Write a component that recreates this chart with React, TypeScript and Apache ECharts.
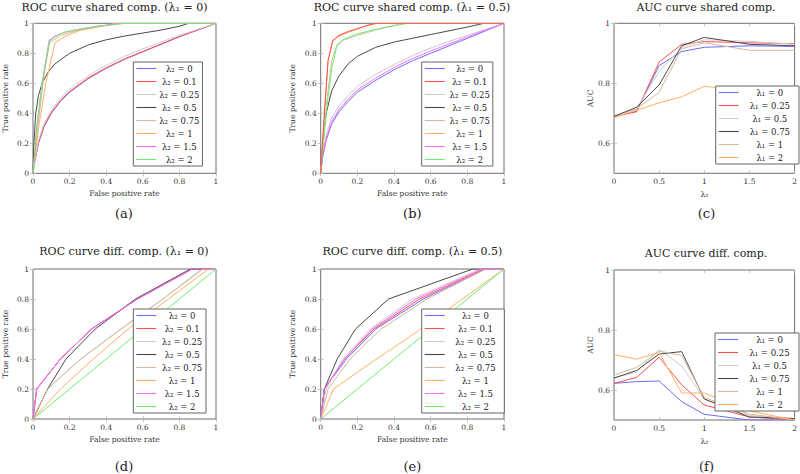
import React, { useEffect, useRef } from 'react';
import * as echarts from 'echarts';

// ---------- names / categories ----------
const lambda2Names = ['λ₂ = 0', 'λ₂ = 0.1', 'λ₂ = 0.25', 'λ₂ = 0.5', 'λ₂ = 0.75', 'λ₂ = 1', 'λ₂ = 1.5', 'λ₂ = 2'];
const lambda1Names = ['λ₁ = 0', 'λ₁ = 0.25', 'λ₁ = 0.5', 'λ₁ = 0.75', 'λ₁ = 1', 'λ₁ = 2'];
const lambda2Values = [0, 0.25, 0.5, 0.75, 1, 1.5, 2];
const titles = [
  'ROC curve shared comp. (λ₁ = 0)',
  'ROC curve shared comp. (λ₁ = 0.5)',
  'AUC curve shared comp.',
  'ROC curve diff. comp. (λ₁ = 0)',
  'ROC curve diff. comp. (λ₁ = 0.5)',
  'AUC curve diff. comp.',
];
const subLabels = ['(a)', '(b)', '(c)', '(d)', '(e)', '(f)'];

// ---------- (a) ROC shared comp., λ1 = 0 : [FPR, TPR] ----------
const rocA_l2_0 = [[0, 0], [0.01, 0.08], [0.03, 0.2], [0.06, 0.31], [0.1, 0.4], [0.15, 0.48], [0.2, 0.54], [0.3, 0.63], [0.4, 0.7], [0.5, 0.76], [0.6, 0.81], [0.7, 0.86], [0.8, 0.91], [0.9, 0.955], [1, 1]];
const rocA_l2_01 = [[0, 0], [0.01, 0.085], [0.03, 0.205], [0.06, 0.315], [0.1, 0.405], [0.15, 0.485], [0.2, 0.545], [0.3, 0.635], [0.4, 0.703], [0.5, 0.762], [0.6, 0.812], [0.7, 0.862], [0.8, 0.912], [0.9, 0.956], [1, 1]];
const rocA_l2_025 = [[0, 0], [0.01, 0.09], [0.03, 0.22], [0.06, 0.33], [0.1, 0.42], [0.15, 0.5], [0.2, 0.56], [0.3, 0.65], [0.4, 0.72], [0.5, 0.78], [0.6, 0.83], [0.7, 0.875], [0.8, 0.92], [0.9, 0.96], [1, 1]];
const rocA_l2_05 = [[0, 0], [0.005, 0.2], [0.015, 0.4], [0.03, 0.52], [0.05, 0.6], [0.08, 0.67], [0.12, 0.73], [0.2, 0.8], [0.3, 0.855], [0.4, 0.89], [0.5, 0.915], [0.6, 0.935], [0.7, 0.955], [0.8, 0.98], [0.85, 1], [1, 1]];
const rocA_l2_075 = [[0, 0], [0.03, 0.35], [0.06, 0.65], [0.09, 0.87], [0.15, 0.92], [0.25, 0.955], [0.4, 0.985], [0.5, 1], [1, 1]];
const rocA_l2_1 = [[0, 0], [0.03, 0.3], [0.07, 0.6], [0.12, 0.87], [0.17, 0.91], [0.25, 0.95], [0.35, 0.975], [0.45, 1], [1, 1]];
const rocA_l2_15 = [[0, 0], [0.02, 0.3], [0.05, 0.6], [0.088, 0.885], [0.12, 0.915], [0.17, 0.94], [0.25, 0.96], [0.35, 0.98], [0.48, 1], [1, 1]];
const rocA_l2_2 = [[0, 0], [0.02, 0.3], [0.05, 0.6], [0.09, 0.88], [0.12, 0.91], [0.17, 0.94], [0.25, 0.96], [0.35, 0.98], [0.5, 1], [1, 1]];

// ---------- (b) ROC shared comp., λ1 = 0.5 ----------
const rocB_l2_0 = [[0, 0], [0.01, 0.1], [0.03, 0.22], [0.06, 0.33], [0.1, 0.41], [0.15, 0.48], [0.2, 0.54], [0.3, 0.62], [0.4, 0.69], [0.5, 0.75], [0.6, 0.8], [0.7, 0.85], [0.8, 0.9], [0.9, 0.95], [1, 1]];
const rocB_l2_01 = [[0, 0], [0.02, 0.4], [0.04, 0.75], [0.065, 0.885], [0.1, 0.92], [0.15, 0.945], [0.2, 0.965], [0.25, 0.985], [0.3, 1], [1, 1]];
const rocB_l2_025 = [[0, 0], [0.01, 0.12], [0.03, 0.26], [0.06, 0.37], [0.1, 0.45], [0.15, 0.52], [0.2, 0.58], [0.3, 0.66], [0.4, 0.725], [0.5, 0.785], [0.6, 0.835], [0.7, 0.88], [0.8, 0.92], [0.9, 0.96], [1, 1]];
const rocB_l2_05 = [[0, 0], [0.01, 0.2], [0.03, 0.4], [0.06, 0.55], [0.1, 0.65], [0.15, 0.73], [0.2, 0.78], [0.3, 0.84], [0.4, 0.875], [0.5, 0.9], [0.6, 0.925], [0.7, 0.95], [0.8, 0.975], [0.89, 1], [1, 1]];
const rocB_l2_075 = [[0, 0], [0.03, 0.45], [0.06, 0.75], [0.09, 0.86], [0.12, 0.885], [0.2, 0.92], [0.3, 0.955], [0.4, 0.985], [0.45, 1], [1, 1]];
const rocB_l2_1 = [[0, 0], [0.02, 0.4], [0.04, 0.75], [0.065, 0.88], [0.1, 0.915], [0.15, 0.94], [0.2, 0.96], [0.25, 0.982], [0.31, 1], [1, 1]];
const rocB_l2_15 = [[0, 0], [0.01, 0.11], [0.03, 0.235], [0.06, 0.345], [0.1, 0.425], [0.15, 0.495], [0.2, 0.555], [0.3, 0.635], [0.4, 0.705], [0.5, 0.765], [0.6, 0.815], [0.7, 0.862], [0.8, 0.91], [0.9, 0.955], [1, 1]];
const rocB_l2_2 = [[0, 0], [0.03, 0.4], [0.06, 0.7], [0.087, 0.845], [0.12, 0.89], [0.2, 0.93], [0.3, 0.96], [0.4, 0.985], [0.48, 1], [1, 1]];

// ---------- (d) ROC diff. comp., λ1 = 0 ----------
const rocD_l2_0 = [[0, 0], [0.02, 0.2], [0.15, 0.4], [0.32, 0.6], [0.57, 0.8], [0.87, 1], [1, 1]];
const rocD_l2_01 = [[0, 0], [0.02, 0.2], [0.15, 0.4], [0.32, 0.6], [0.57, 0.8], [0.87, 1], [1, 1]];
const rocD_l2_025 = [[0, 0], [0.08, 0.2], [0.24, 0.38], [0.46, 0.58], [0.7, 0.79], [0.92, 1], [1, 1]];
const rocD_l2_05 = [[0, 0], [0.08, 0.2], [0.18, 0.4], [0.34, 0.6], [0.56, 0.8], [0.86, 1], [1, 1]];
const rocD_l2_075 = [[0, 0], [0.08, 0.2], [0.26, 0.4], [0.48, 0.6], [0.71, 0.8], [0.93, 1], [1, 1]];
const rocD_l2_1 = [[0, 0], [0.15, 0.2], [0.33, 0.4], [0.52, 0.6], [0.74, 0.8], [0.96, 1], [1, 1]];
const rocD_l2_15 = [[0, 0], [0.02, 0.2], [0.15, 0.4], [0.32, 0.6], [0.57, 0.8], [0.87, 1], [1, 1]];
const rocD_l2_2 = [[0, 0], [1, 1]];

// ---------- (e) ROC diff. comp., λ1 = 0.5 ----------
const rocE_l2_0 = [[0, 0], [0.02, 0.2], [0.14, 0.4], [0.3, 0.6], [0.56, 0.8], [0.9, 1], [1, 1]];
const rocE_l2_01 = [[0, 0], [0.02, 0.2], [0.13, 0.4], [0.29, 0.6], [0.54, 0.8], [0.89, 1], [1, 1]];
const rocE_l2_025 = [[0, 0], [0.03, 0.2], [0.12, 0.4], [0.27, 0.6], [0.5, 0.8], [0.87, 1], [1, 1]];
const rocE_l2_05 = [[0, 0], [0.02, 0.2], [0.09, 0.4], [0.19, 0.6], [0.37, 0.8], [0.83, 1], [1, 1]];
const rocE_l2_075 = [[0, 0], [0.04, 0.2], [0.16, 0.4], [0.33, 0.6], [0.58, 0.8], [0.9, 1], [1, 1]];
const rocE_l2_1 = [[0, 0], [0.07, 0.2], [0.28, 0.38], [0.5, 0.56], [0.75, 0.78], [1, 1]];
const rocE_l2_15 = [[0, 0], [0.02, 0.2], [0.13, 0.4], [0.28, 0.6], [0.52, 0.8], [0.88, 1], [1, 1]];
const rocE_l2_2 = [[0, 0], [1, 1]];

// ---------- (c) AUC shared comp. vs λ2 ----------
const aucShared_l1_0 = [0.688, 0.707, 0.859, 0.906, 0.92, 0.925, 0.923];
const aucShared_l1_025 = [0.69, 0.705, 0.871, 0.93, 0.939, 0.935, 0.932];
const aucShared_l1_05 = [0.69, 0.715, 0.84, 0.92, 0.945, 0.94, 0.93];
const aucShared_l1_075 = [0.69, 0.72, 0.795, 0.925, 0.953, 0.93, 0.925];
const aucShared_l1_1 = [0.685, 0.715, 0.77, 0.915, 0.935, 0.91, 0.91];
const aucShared_l1_2 = [0.685, 0.71, 0.735, 0.755, 0.79, 0.775, 0.758];

// ---------- (f) AUC diff. comp. vs λ2 ----------
const aucDiff_l1_0 = [0.622, 0.628, 0.63, 0.561, 0.519, 0.5, 0.5];
const aucDiff_l1_025 = [0.622, 0.642, 0.709, 0.617, 0.55, 0.51, 0.5];
const aucDiff_l1_05 = [0.64, 0.66, 0.735, 0.68, 0.57, 0.515, 0.505];
const aucDiff_l1_075 = [0.64, 0.665, 0.72, 0.728, 0.57, 0.51, 0.505];
const aucDiff_l1_1 = [0.65, 0.675, 0.73, 0.715, 0.575, 0.52, 0.5];
const aucDiff_l1_2 = [0.718, 0.703, 0.725, 0.59, 0.59, 0.53, 0.5];

const rocPlots = [
  [rocA_l2_0, rocA_l2_01, rocA_l2_025, rocA_l2_05, rocA_l2_075, rocA_l2_1, rocA_l2_15, rocA_l2_2],
  [rocB_l2_0, rocB_l2_01, rocB_l2_025, rocB_l2_05, rocB_l2_075, rocB_l2_1, rocB_l2_15, rocB_l2_2],
  null,
  [rocD_l2_0, rocD_l2_01, rocD_l2_025, rocD_l2_05, rocD_l2_075, rocD_l2_1, rocD_l2_15, rocD_l2_2],
  [rocE_l2_0, rocE_l2_01, rocE_l2_025, rocE_l2_05, rocE_l2_075, rocE_l2_1, rocE_l2_15, rocE_l2_2],
  null,
];
const aucPlots = {
  2: [aucShared_l1_0, aucShared_l1_025, aucShared_l1_05, aucShared_l1_075, aucShared_l1_1, aucShared_l1_2],
  5: [aucDiff_l1_0, aucDiff_l1_025, aucDiff_l1_05, aucDiff_l1_075, aucDiff_l1_1, aucDiff_l1_2],
};

// ---------- styles / layout ----------
const lambda2Colors = ['#6b6bff', '#ff5050', '#cccccc', '#4a4a4a', '#d8b89c', '#ffb062', '#ff6cff', '#6cef6c'];
const lambda1Colors = ['#6b6bff', '#ff5050', '#cccccc', '#4a4a4a', '#d8b89c', '#ffb062'];
// drawing order inside plot (b): the red top curve is drawn last but one
const drawOrderB = [0, 2, 3, 4, 5, 6, 7, 1];
const FONT = 'DejaVu Serif';
const gridBoxes = [
  { left: 32, top: 23.3, width: 184, height: 150 },
  { left: 320.7, top: 23.3, width: 183.3, height: 150 },
  { left: 614, top: 23.3, width: 185, height: 150 },
  { left: 32, top: 269, width: 184, height: 150 },
  { left: 320.7, top: 269, width: 183.3, height: 150 },
  { left: 614, top: 270, width: 185, height: 150 },
];
const legendBoxes = [
  { left: 133.3, top: 62, width: 67 },
  { left: 421.7, top: 62, width: 71 },
  { left: 715.7, top: 86, width: 83.3 },
  { left: 133.3, top: 309, width: 72.7 },
  { left: 421.7, top: 309, width: 82.6 },
  { left: 715, top: 333, width: 84 },
];
const titlePos = [
  [114.5, 7], [412, 7], [706, 7], [124, 251.5], [412.5, 251.5], [706, 253],
];
const subLabelY = [213, 213, 213, 466, 466, 466];
const LEGEND_LINE_ICON = 'path://M0,0h20v1.1h-20z';

const App: React.FC = () => {
  const ref = useRef<HTMLDivElement>(null);
  useEffect(() => {
    if (!ref.current) return;
    const chart = echarts.init(ref.current, undefined, { renderer: 'svg' });
    const isAuc = (k: number) => k === 2 || k === 5;

    const grid = gridBoxes.map((g) => ({
      ...g,
      show: true,
      borderColor: '#6e6e6e',
      borderWidth: 1,
      backgroundColor: 'transparent',
      containLabel: false,
    }));

    const tickStyle = { show: true, inside: true, length: 3, lineStyle: { color: '#b5b5b5', width: 0.8 } };
    const labelStyle = { fontFamily: FONT, fontSize: 7.5, color: '#333', margin: 4 };
    const nameStyle = { fontFamily: FONT, fontSize: 7.6, color: '#333' };

    const xAxis: any[] = [];
    const yAxis: any[] = [];
    gridBoxes.forEach((_, k) => {
      const auc = isAuc(k);
      xAxis.push({
        type: 'value', gridIndex: k, min: 0, max: auc ? 2 : 1, interval: auc ? 0.5 : 0.2,
        name: auc ? 'λ₂' : 'False positive rate', nameLocation: 'middle', nameGap: auc ? 17 : 16.5,
        nameTextStyle: nameStyle,
        axisLine: { show: false }, axisTick: tickStyle, axisLabel: labelStyle, splitLine: { show: false },
      });
      yAxis.push({
        type: 'value', gridIndex: k, min: auc ? 0.5 : 0, max: 1,
        ...(auc ? {} : { interval: 0.2 }),
        name: auc ? 'AUC' : 'True positive rate', nameLocation: 'middle', nameGap: auc ? 18 : 24,
        nameTextStyle: nameStyle,
        axisLine: { show: false },
        axisTick: auc ? { ...tickStyle, customValues: [0.6, 0.8, 1] } : tickStyle,
        axisLabel: auc ? { ...labelStyle, customValues: [0.6, 0.8, 1] } : labelStyle,
        splitLine: { show: false },
      });
    });
    // mirror ticks on top / right
    gridBoxes.forEach((_, k) => {
      const auc = isAuc(k);
      xAxis.push({
        type: 'value', gridIndex: k, position: 'top', min: 0, max: auc ? 2 : 1, interval: auc ? 0.5 : 0.2,
        axisLine: { show: false }, axisTick: tickStyle, axisLabel: { show: false }, splitLine: { show: false },
      });
      yAxis.push({
        type: 'value', gridIndex: k, position: 'right', min: auc ? 0.5 : 0, max: 1,
        ...(auc ? {} : { interval: 0.2 }),
        axisLine: { show: false },
        axisTick: auc ? { ...tickStyle, customValues: [0.6, 0.8, 1] } : tickStyle,
        axisLabel: { show: false }, splitLine: { show: false },
      });
    });

    const series: any[] = [];
    rocPlots.forEach((plot, k) => {
      if (!plot) return;
      plot.forEach((data, i) => {
        const order = k === 1 ? drawOrderB.indexOf(i) : i;
        series.push({
          type: 'line', name: lambda2Names[i], xAxisIndex: k, yAxisIndex: k, data,
          symbol: 'none', showSymbol: false, smooth: false,
          lineStyle: { width: 1, color: lambda2Colors[i] }, itemStyle: { color: lambda2Colors[i] },
          z: 2 + order * 0.01,
        });
      });
    });
    Object.entries(aucPlots).forEach(([kStr, plot]) => {
      const k = Number(kStr);
      (plot as number[][]).forEach((vals, i) => {
        series.push({
          type: 'line', name: lambda1Names[i], xAxisIndex: k, yAxisIndex: k,
          data: lambda2Values.map((x, j) => [x, vals[j]]),
          symbol: 'none', showSymbol: false,
          lineStyle: { width: 1, color: lambda1Colors[i] }, itemStyle: { color: lambda1Colors[i] },
        });
      });
    });

    const legend = legendBoxes.map((b, k) => ({
      orient: 'vertical', left: b.left, top: b.top,
      padding: [2, 3], itemGap: 4, itemWidth: 20, itemHeight: 9,
      backgroundColor: '#ffffff', borderColor: '#666', borderWidth: 1,
      selectedMode: false,
      icon: LEGEND_LINE_ICON,
      itemStyle: { borderWidth: 0 },
      data: isAuc(k) ? lambda1Names : lambda2Names,
      formatter: (n: string) => `{t|${n}}`,
      textStyle: {
        rich: { t: { width: b.width - 31, align: 'center', fontFamily: FONT, fontSize: 8.5, color: '#222', lineHeight: 9 } },
      },
      z: 10,
    }));

    const graphic: any[] = [];
    titles.forEach((t, k) => {
      graphic.push({
        type: 'text', x: titlePos[k][0], y: titlePos[k][1],
        style: { text: t, align: 'center', verticalAlign: 'middle', font: `11px "${FONT}"`, fill: '#222' },
      });
      const g = gridBoxes[k];
      graphic.push({
        type: 'text', x: g.left + g.width / 2, y: subLabelY[k],
        style: { text: subLabels[k], align: 'center', verticalAlign: 'middle', font: `13px "${FONT}"`, fill: '#222' },
      });
    });

    chart.setOption({
      animation: false,
      backgroundColor: '#ffffff',
      grid, xAxis, yAxis, series, legend, graphic,
    });
    return () => chart.dispose();
  }, []);
  return <div ref={ref} style={{ position: 'fixed', left: 0, top: 0, width: 800, height: 474 }} />;
};

export default App;
